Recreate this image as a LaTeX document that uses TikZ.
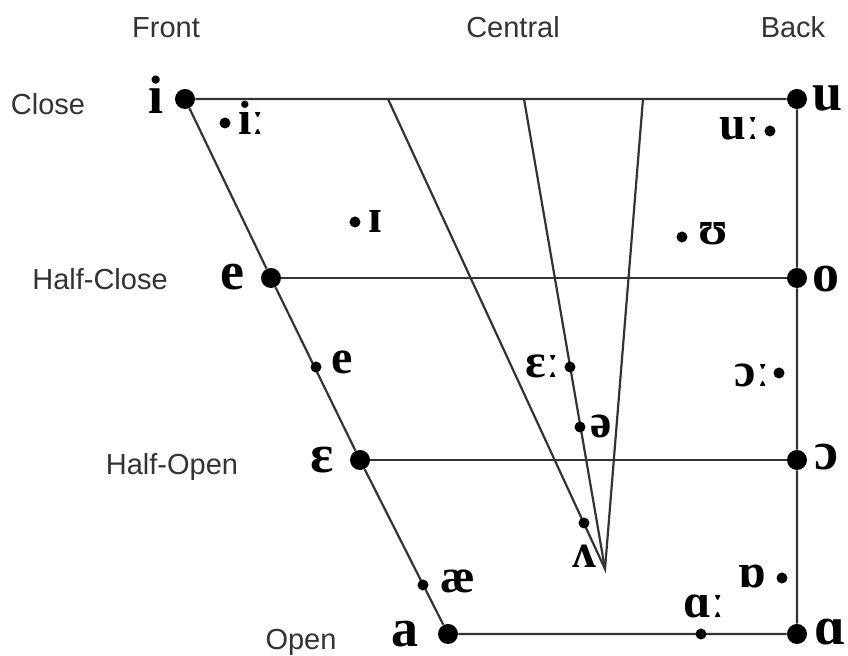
\documentclass[tikz,border=0pt]{standalone}
\usepackage{fontspec}
\setmainfont{Liberation Serif}
\setsansfont{Liberation Sans}
\begin{document}
\begin{tikzpicture}[x=0.5pt,y=-0.5pt,
  vowel/.style={circle,fill=black,inner sep=0pt,minimum size=10pt},
  minor/.style={circle,fill=black,inner sep=0pt,minimum size=5.5pt},
  ipa/.style={font=\fontsize{27}{32}\selectfont\bfseries,inner sep=0pt},
  ipasmall/.style={font=\fontsize{24}{28}\selectfont\bfseries,inner sep=0pt},
  axislab/.style={font=\sffamily\fontsize{14.5}{17}\selectfont,text=black!80,inner sep=0pt,anchor=base},
  grid/.style={draw=black!80,line width=1.1pt}]
  \useasboundingbox (0,0) rectangle (848,656);

  % Column labels
  \node[axislab] (front) at (166,38) {Front};
  \node[axislab] (central) at (513,38) {Central};
  \node[axislab] (back) at (793,38) {Back};

  % Row labels
  \node[axislab] (close) at (48,115) {Close};
  \node[axislab] (halfclose) at (100,290) {Half-Close};
  \node[axislab] (halfopen) at (172,475) {Half-Open};
  \node[axislab] (open) at (301,650) {Open};

  % Cardinal vowels
  \foreach \n/\x/\y in {i/185/99, e/271/278, E/360/460, a/448/634,
                        u/797/99, o/797/278, O/797/460, A/797/634}
    \node[vowel] (\n) at (\x,\y) {};

  % Central lines
  \coordinate (c1) at (388,99);
  \coordinate (c2) at (524,99);
  \coordinate (c3) at (643,99);
  \coordinate (apex) at (605,569);

  % Quadrilateral
  \draw[grid] (i) -- (e) -- (E) -- (a) -- (A) -- (O) -- (o) -- (u) -- (i);
  \draw[grid] (e) -- (o);
  \draw[grid] (E) -- (O);
  \draw[grid] (c1) -- (apex) -- (c3);
  \draw[grid] (c2) -- (apex);

  % Other vowels
  \foreach \n/\x/\y in {ii/225/123, I/355/222, uu/770/131, U/682/237,
                        ee/316/367, EE/570/367, schwa/580/427, OO/779/373,
                        V/584/523, Q/782/578, AA/701/634, ae/423/585}
    \node[minor] (\n) at (\x,\y) {};

  % Symbols
  \node[ipa,anchor=base east] (i-t) at (164,114) {i};
  \node[ipa,anchor=base east] (e-t) at (245,290) {e};
  \node[ipa,anchor=base east] (E-t) at (334,473) {ɛ};
  \node[ipa,anchor=base east] (a-t) at (419,647) {a};
  \node[ipa,anchor=base west] (u-t) at (812,111) {u};
  \node[ipa,anchor=base west] (o-t) at (812,292) {o};
  \node[ipa,anchor=base west] (O-t) at (814,470) {ɔ};
  \node[ipa,anchor=base west] (A-t) at (814,645) {ɑ};

  \node[ipasmall,anchor=base west] (ii-t) at (238,135) {iː};
  \node[ipasmall,anchor=base west] (I-t) at (368,233) {ɪ};
  \node[ipasmall,anchor=base east] (uu-t) at (760,140) {uː};
  \node[ipasmall,anchor=base west] (U-t) at (698,245) {ʊ};
  \node[ipasmall,anchor=base west] (ee-t) at (331,374) {e};
  \node[ipasmall,anchor=base east] (EE-t) at (560,378) {ɛː};
  \node[ipasmall,anchor=base west] (schwa-t) at (590,438) {ə};
  \node[ipasmall,anchor=base east] (OO-t) at (770,387) {ɔː};
  \node[ipasmall,anchor=base west] (V-t) at (572,568) {ʌ};
  \node[ipasmall,anchor=base east] (Q-t) at (766,588) {ɒ};
  \node[ipasmall,anchor=base west] (AA-t) at (683,618) {ɑː};
  \node[ipasmall,anchor=base west] (ae-t) at (440,593) {æ};
\end{tikzpicture}
\end{document}
